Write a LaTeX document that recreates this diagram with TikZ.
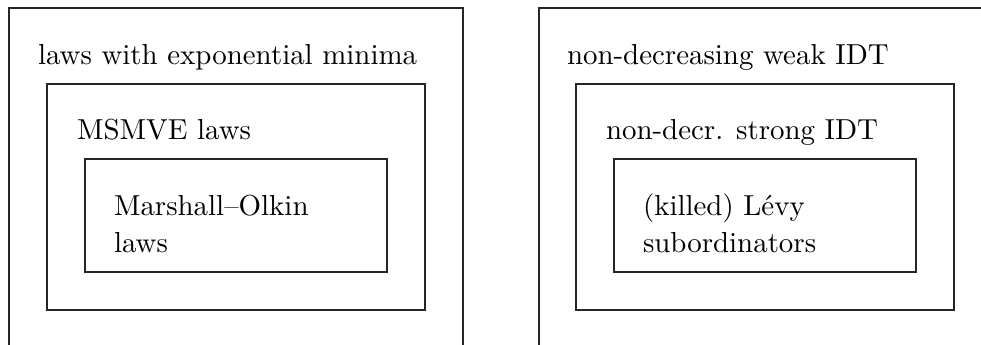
\documentclass[tikz,border=0pt]{standalone}
\begin{document}
\begin{tikzpicture}[x=0.346pt,y=-0.346pt,
  setbox/.style={draw=black!85,line width=0.4pt},
  lbl/.style={anchor=base west,inner sep=0pt,outer sep=0pt,font=\fontsize{10}{13.1}\selectfont,align=left}]
\useasboundingbox (0,0) rectangle (981,345);
\clip (0,0) rectangle (981,345);
% left family
\draw[setbox] (9,360) -- (9,8) -- (463,8) -- (463,360);
\draw[setbox] (47,84) rectangle (425,310);
\draw[setbox] (85,159) rectangle (387,272);
\node[lbl] (a1) at (38,65) {laws with exponential minima};
\node[lbl] (a2) at (77,140) {MSMVE laws};
\node[lbl] (a3) at (114,216) {Marshall--Olkin};
\node[lbl] (a4) at (114,253) {laws};
% right family
\draw[setbox] (539,360) -- (539,8) -- (1000,8);
\draw[setbox] (576,84) rectangle (954,310);
\draw[setbox] (614,159) rectangle (916,272);
\node[lbl] (b1) at (567,65) {non-decreasing weak IDT};
\node[lbl] (b2) at (606,140) {non-decr. strong IDT};
\node[lbl] (b3) at (643,216) {(killed) L\'evy};
\node[lbl] (b4) at (643,253) {subordinators};
\end{tikzpicture}
\end{document}
